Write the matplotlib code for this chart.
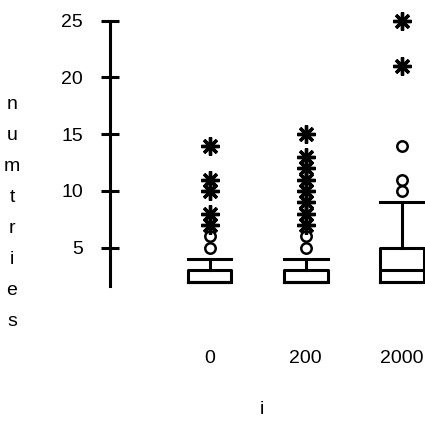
import matplotlib
matplotlib.use("Agg")
import matplotlib.pyplot as plt

plt.rcParams['font.family'] = ['Liberation Sans', 'DejaVu Sans']

# groups of i and the box summaries of numtries
groups = ['0', '200', '2000']
q1 = [2, 2, 2]
med = [2, 2, 3]
q3 = [3, 3, 5]
whislo = [2, 2, 2]
whishi = [4, 4, 9]
# outside values (circles) and far outside values (stars)
mild = [[5, 6], [5, 6], [10, 11, 14]]
extreme = [[7, 8, 10, 11, 14], [7, 8, 9, 10, 11, 12, 13, 15], [21, 25]]

yticks = [5, 10, 15, 20, 25]
fs = 14

fig = plt.figure(figsize=(4.25, 4.21), dpi=100)
ax = fig.add_axes([110 / 425, 1 - 286 / 421, 315 / 425, (286 - 20.7) / 421])

pos = [1, 2, 3]
stats = []
for i in range(len(groups)):
    stats.append(dict(q1=q1[i], med=med[i], q3=q3[i],
                      whislo=whislo[i], whishi=whishi[i], fliers=[]))

lw = 2.2
ax.bxp(stats, positions=pos, widths=0.457, capwidths=0.457,
       showfliers=False,
       boxprops=dict(color='black', linewidth=lw),
       medianprops=dict(color='black', linewidth=lw),
       whiskerprops=dict(color='black', linewidth=lw),
       capprops=dict(color='black', linewidth=lw))

for i in range(len(groups)):
    ax.plot([pos[i]] * len(mild[i]), mild[i], linestyle='none', marker='o',
            markersize=7.5, markerfacecolor='white', markeredgecolor='black',
            markeredgewidth=1.8, clip_on=False)
    ax.plot([pos[i]] * len(extreme[i]), extreme[i], linestyle='none',
            marker=(8, 2, 0), markersize=13, markeredgecolor='black',
            markeredgewidth=2.4, clip_on=False)

ax.set_xlim(1 - 99.5 / 96.25, 3 + 23 / 96.25)
ax.set_ylim(1.63, 25)
ax.set_yticks(yticks)
ax.set_yticklabels([str(t) for t in yticks], fontsize=fs)
ax.set_xticks(pos)
ax.set_xticklabels(groups, fontsize=fs)
ax.tick_params(axis='y', direction='inout', length=13, width=lw, pad=13)
ax.tick_params(axis='x', length=0, pad=46)

for s in ['top', 'right', 'bottom']:
    ax.spines[s].set_visible(False)
ax.spines['left'].set_linewidth(lw)

fig.text(12 / 425, 1 - 213 / 421, "\n".join("numtries"), ha='center',
         va='center', fontsize=fs, linespacing=2.08)
fig.text(262 / 425, 1 - 410 / 421, "i", ha='center', va='center', fontsize=fs)

fig.savefig("out.png", dpi=100)
